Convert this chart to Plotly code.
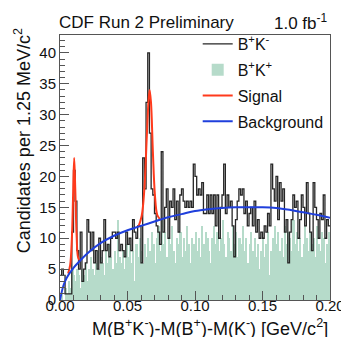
import numpy as np
import plotly.graph_objects as go

# ─── data ─────────────────────────────────────────────────────────────────────
BIN_W = 0.00125  # 1.25 MeV/c^2
X_LO = 0.0

# B+K- candidates per bin (160 bins, 0 - 0.2 GeV/c^2)
bk_minus = [
    4, 5, 4, 1, 1, 1, 1, 11, 21, 16,
    8, 5, 11, 3, 5, 6, 13, 11, 8, 11,
    6, 8, 5, 10, 6, 8, 13, 8, 9, 7,
    10, 11, 11, 10, 11, 8, 9, 8, 7, 11,
    9, 10, 8, 13, 11, 10, 12, 12, 6, 23,
    18, 32, 40, 27, 18, 17, 14, 12, 11, 9,
    24, 11, 15, 18, 10, 16, 15, 18, 13, 16,
    11, 17, 18, 16, 15, 16, 15, 16, 15, 22,
    20, 17, 18, 17, 19, 14, 14, 17, 14, 17,
    14, 17, 12, 17, 10, 15, 17, 22, 14, 17,
    15, 16, 12, 7, 13, 16, 18, 17, 18, 14,
    16, 12, 14, 15, 12, 16, 11, 13, 10, 11,
    10, 12, 11, 14, 12, 22, 18, 16, 20, 13,
    19, 16, 18, 11, 13, 6, 11, 13, 17, 15,
    16, 10, 13, 17, 15, 12, 19, 14, 11, 8,
    19, 15, 13, 10, 14, 13, 17, 10, 13, 12,
]

# B+K+ (same-sign) candidates per bin
bk_plus = [
    0, 1, 0, 2, 1, 3, 2, 5, 4, 3,
    5, 4, 2, 5, 4, 6, 3, 5, 7, 5,
    4, 6, 8, 5, 7, 6, 4, 8, 6, 9,
    7, 5, 8, 6, 13, 7, 6, 8, 5, 9,
    7, 9, 6, 8, 3, 9, 7, 10, 8, 6,
    9, 7, 10, 8, 11, 9, 6, 10, 12, 8,
    13, 9, 11, 7, 10, 9, 12, 8, 6, 10,
    9, 11, 7, 10, 8, 12, 9, 6, 10, 9,
    11, 8, 10, 7, 12, 9, 11, 10, 8, 6,
    10, 12, 9, 11, 8, 10, 13, 9, 7, 11,
    10, 8, 12, 9, 11, 7, 10, 9, 12, 8,
    10, 6, 9, 11, 8, 10, 7, 9, 5, 8,
    10, 7, 9, 11, 4, 8, 10, 12, 9, 11,
    8, 10, 7, 12, 9, 11, 10, 8, 13, 9,
    11, 8, 10, 7, 9, 12, 10, 8, 11, 9,
    10, 7, 12, 9, 8, 11, 10, 6, 9, 11,
]

# background fit curve
bkg_x = [0.0, 0.0025, 0.005, 0.01, 0.015, 0.02, 0.03, 0.04, 0.05, 0.06, 0.07,
         0.08, 0.09, 0.10, 0.11, 0.12, 0.13, 0.14, 0.15, 0.16, 0.17, 0.18,
         0.19, 0.20]
bkg_y = [0.0, 2.3, 3.6, 5.2, 6.4, 7.5, 9.2, 10.4, 11.3, 12.0, 12.7,
         13.4, 13.9, 14.4, 14.7, 14.9, 15.0, 15.0, 15.0, 14.9, 14.6, 14.2,
         13.8, 13.3]

# signal + background around the two peaks (None splits the segments)
sig_x = [0.0060, 0.0075, 0.0088, 0.0097, 0.0105, 0.0113, 0.0123, 0.0135, 0.0150,
         None,
         0.0580, 0.0605, 0.0625, 0.0642, 0.0655, 0.0664, 0.0674, 0.0688, 0.0703,
         0.0720, 0.0740]
sig_y = [4.3, 5.6, 10.0, 17.0, 23.0, 18.0, 10.5, 6.8, 6.3,
         None,
         11.8, 13.6, 18.0, 26.0, 32.0, 34.0, 32.0, 24.0, 17.0,
         13.8, 13.1]

GREEN = "#b6dbca"
RED = "#ff3a1c"
BLUE = "#1f3fdc"
FONT = "Liberation Sans, Arial, sans-serif"

edges = X_LO + BIN_W * np.arange(len(bk_minus) + 1)
centers = edges[:-1] + BIN_W / 2

fig = go.Figure()
fig.add_trace(go.Bar(x=centers, y=bk_plus, width=BIN_W, name="B<sup>+</sup>K<sup>+</sup>",
                     marker=dict(color=GREEN, line=dict(width=0)), legendrank=2,
                     legendgroup="b"))
fig.add_trace(go.Scatter(x=edges, y=bk_minus + [bk_minus[-1]], mode="lines",
                         line=dict(shape="hv", color="#262626", width=1.3),
                         name="B<sup>+</sup>K<sup>-</sup>", legendrank=1, legendgroup="a"))
fig.add_trace(go.Scatter(x=sig_x, y=sig_y, mode="lines", name="Signal",
                         line=dict(color=RED, width=2, shape="spline"),
                         legendrank=3, legendgroup="c"))
fig.add_trace(go.Scatter(x=bkg_x, y=bkg_y, mode="lines", name="Background",
                         line=dict(color=BLUE, width=2, shape="spline"),
                         legendrank=4, legendgroup="d"))

axis_common = dict(showgrid=False, zeroline=False, showline=True, linecolor="#555",
                   linewidth=1, mirror=True, ticks="inside", ticklen=9, tickcolor="#555",
                   tickfont=dict(size=15, color="#111"))
fig.update_xaxes(range=[0, 0.2], tickvals=[0, 0.05, 0.10, 0.15, 0.20],
                 tickformat=".2f", ticklabelstandoff=-8,
                 minor=dict(ticks="inside", ticklen=5, dtick=0.01, tickcolor="#555"),
                 **axis_common)
fig.update_yaxes(range=[0, 42.9], tickvals=[0, 5, 10, 15, 20, 25, 30, 35, 40],
                 minor=dict(ticks="inside", ticklen=5, dtick=1, tickcolor="#555"),
                 **axis_common)

ann = dict(xref="paper", yref="paper", showarrow=False, font=dict(size=17, color="#111"))
fig.add_annotation(text="CDF Run 2 Preliminary", x=-0.01, y=1.049, xanchor="left",
                   yanchor="middle", **ann)
fig.add_annotation(text="1.0 fb<sup>-1</sup>", x=1.0, y=1.049, xanchor="right",
                   yanchor="middle", **ann)
fig.add_annotation(text="M(B<sup>+</sup>K<sup>-</sup>)-M(B<sup>+</sup>)-M(K<sup>-</sup>) [GeV/c<sup>2</sup>]",
                   x=1.0, y=-0.104, xanchor="right", yanchor="middle",
                   xref="paper", yref="paper", showarrow=False,
                   font=dict(size=18, color="#111"))
fig.add_annotation(text="Candidates per 1.25 MeV/c<sup>2</sup>", x=-0.14, y=0.6,
                   textangle=-90, xanchor="center", yanchor="middle",
                   xref="paper", yref="paper", showarrow=False,
                   font=dict(size=18, color="#111"))

fig.update_layout(
    width=349, height=337,
    margin=dict(l=52, r=17, t=27, b=45),
    paper_bgcolor="white", plot_bgcolor="white",
    font=dict(family=FONT, color="#111"),
    bargap=0, barmode="overlay",
    legend=dict(x=0.51, y=1.03, xanchor="left", yanchor="top", bgcolor="rgba(255,255,255,0)",
                font=dict(size=16), tracegroupgap=2),
)

fig.write_html("out.html")
